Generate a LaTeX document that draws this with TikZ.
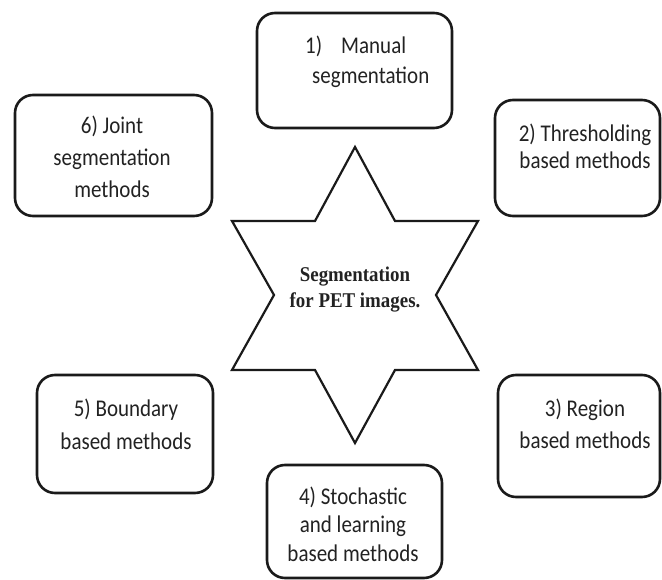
\documentclass[tikz,border=0pt]{standalone}
\usepackage{fontspec}
\newfontfamily\boxfont[FakeStretch=0.875]{Carlito}
\newfontfamily\starfont[FakeStretch=0.9]{Liberation Serif}
\definecolor{ink}{HTML}{1A1A1A}
\definecolor{txt}{HTML}{222222}
\tikzset{
  methodbox/.style={draw=ink, line width=2.6pt, rounded corners=18pt, rectangle, inner sep=0pt},
  methodtext/.style={inner sep=0pt, text=txt, font=\boxfont\fontsize{24}{30}\selectfont, align=center},
  startext/.style={inner sep=0pt, text=txt, font=\starfont\bfseries\fontsize{21}{26}\selectfont, align=center}
}
\begin{document}
\begin{tikzpicture}[x=1pt,y=-1pt]
\useasboundingbox (0,0) rectangle (662,580);
% star
\coordinate (s1) at (355,147);
\coordinate (s2) at (395,221);
\coordinate (s3) at (478,221);
\coordinate (s4) at (436,295);
\coordinate (s5) at (478,370);
\coordinate (s6) at (395,370);
\coordinate (s7) at (355,443);
\coordinate (s8) at (315,370);
\coordinate (s9) at (232,370);
\coordinate (s10) at (274,295);
\coordinate (s11) at (232,221);
\coordinate (s12) at (315,221);
\draw[ink, line width=2.2pt, line join=miter] (s1) -- (s2) -- (s3) -- (s4) -- (s5) -- (s6) -- (s7) -- (s8) -- (s9) -- (s10) -- (s11) -- (s12) -- cycle;
\node[startext] (center) at (355,290) {Segmentation\\for PET images.};
% boxes
\node[methodbox, minimum width=195pt, minimum height=115pt] (b1) at (354.5,70.5) {};
\node[methodbox, minimum width=165pt, minimum height=116pt] (b2) at (577.5,158) {};
\node[methodbox, minimum width=162pt, minimum height=122pt] (b3) at (579,436) {};
\node[methodbox, minimum width=175pt, minimum height=113pt] (b4) at (354.5,521.5) {};
\node[methodbox, minimum width=176pt, minimum height=118pt] (b5) at (125,434) {};
\node[methodbox, minimum width=197pt, minimum height=121pt] (b6) at (113.5,155.5) {};
% texts
\node[methodtext, align=left, anchor=west] (t1) at (305,62) {1)\hspace{19pt}Manual\\\hspace*{7pt}segmentation};
\node[methodtext, font=\boxfont\fontsize{24}{27}\selectfont] (t2) at (585,146) {2) Thresholding\\based methods};
\node[methodtext, font=\boxfont\fontsize{24}{32}\selectfont] (t3) at (585,423.5) {3) Region\\based methods};
\node[methodtext, font=\boxfont\fontsize{24}{28.5}\selectfont] (t4) at (353,524) {4) Stochastic\\and learning\\based methods};
\node[methodtext, font=\boxfont\fontsize{24}{33}\selectfont] (t5) at (126,424) {5) Boundary\\based methods};
\node[methodtext, font=\boxfont\fontsize{24}{32}\selectfont] (t6) at (112,156.5) {6) Joint\\segmentation\\methods};
\end{tikzpicture}
\end{document}
